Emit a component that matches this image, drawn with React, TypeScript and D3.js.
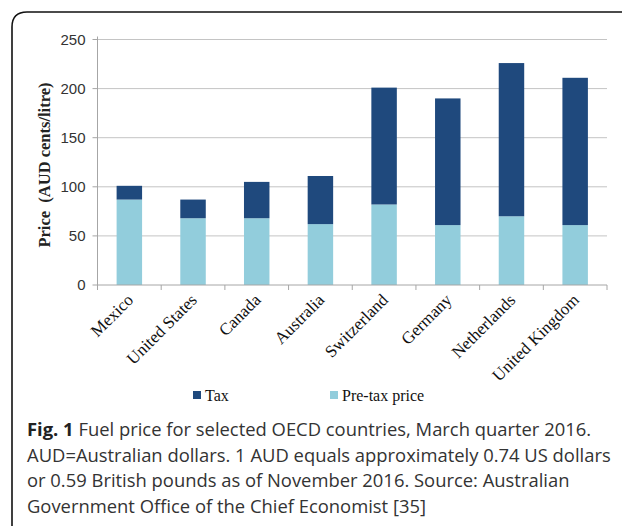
import * as d3 from "d3";
import React from "react";

// data (AUD cents / litre)
const countries = ["Mexico", "United States", "Canada", "Australia", "Switzerland", "Germany", "Netherlands", "United Kingdom"];
const preTax = [87, 68, 68, 62, 82, 61, 70, 61];
const tax = [14, 19, 37, 49, 119, 129, 156, 150];
const yTicks = [0, 50, 100, 150, 200, 250];
const seriesNames = ["Tax", "Pre-tax price"];
const seriesColors = ["#1f497d", "#92cddc"];
const captionLines = [
  "Fuel price for selected OECD countries, March quarter 2016.",
  "AUD=Australian dollars. 1 AUD equals approximately 0.74 US dollars",
  "or 0.59 British pounds as of November 2016. Source: Australian",
  "Government Office of the Chief Economist [35]",
];

const W = 622;
const H = 526;
const margin = { top: 39.5, left: 97.5, right: 15, bottom: 241 };

export default function App() {
  const x = d3.scaleBand<string>().domain(countries).range([margin.left, W - margin.right]);
  const y = d3.scaleLinear().domain([0, 250]).range([H - margin.bottom, margin.top]);
  const bw = x.bandwidth() * 0.4;
  const serif = "'Liberation Serif', serif";
  const sans = "'Liberation Sans', Arial, sans-serif";

  const stack = d3.stack<number>().keys(["pre", "tax"]).value((i, k) => (k === "pre" ? preTax[i] : tax[i]));
  const layers = stack(d3.range(countries.length));

  return (
    <svg width={W} height={H} style={{ position: "absolute", left: 0, top: 0, background: "#fff" }}>
      {/* figure frame */}
      <path d={`M12,${H + 5} L12,27 Q12,12 27,12 L${W + 5},12`} fill="none" stroke="#111" strokeWidth={1.6} />

      {/* gridlines */}
      {yTicks.slice(1).map((t) => (
        <line key={t} x1={margin.left} x2={W - margin.right} y1={y(t)} y2={y(t)} stroke="#c4c4c4" strokeWidth={1} />
      ))}

      {/* bars */}
      {layers.map((layer, li) =>
        layer.map((d, i) => (
          <rect
            key={`${li}-${i}`}
            x={x(countries[i])! + x.bandwidth() / 2 - bw / 2}
            y={y(d[1])}
            width={bw}
            height={y(d[0]) - y(d[1])}
            fill={li === 0 ? seriesColors[1] : seriesColors[0]}
          />
        ))
      )}

      {/* y axis */}
      <line x1={margin.left} x2={margin.left} y1={y(250) - 3} y2={y(0)} stroke="#a6a6a6" />
      {yTicks.map((t) => (
        <g key={t}>
          <line x1={margin.left - 5} x2={margin.left} y1={y(t)} y2={y(t)} stroke="#a6a6a6" />
          <text x={margin.left - 12} y={y(t)} dy="0.35em" textAnchor="end" fontFamily={sans} fontSize={15} fill="#333">
            {t}
          </text>
        </g>
      ))}

      {/* x axis */}
      <line x1={margin.left} x2={W - margin.right} y1={y(0)} y2={y(0)} stroke="#a6a6a6" />
      {countries.concat([""]).map((c, i) => {
        const xx = margin.left + i * x.step();
        return <line key={i} x1={xx} x2={xx} y1={y(0)} y2={y(0) + 5} stroke="#a6a6a6" />;
      })}
      {countries.map((c) => {
        const cx = x(c)! + x.bandwidth() / 2 + 5;
        const cy = y(0) + 16;
        return (
          <text key={c} x={cx} y={cy} textAnchor="end" transform={`rotate(-45,${cx},${cy})`} fontFamily={serif} fontSize={17} fill="#111">
            {c}
          </text>
        );
      })}

      {/* y label */}
      <text
        transform={`translate(50,165) rotate(-90)`}
        textAnchor="middle"
        fontFamily={serif}
        fontWeight="bold"
        fontSize={16.5}
        fill="#222"
      >
        {"Price\u00a0\u00a0(AUD cents/litre)"}
      </text>

      {/* legend */}
      {seriesNames.map((s, i) => {
        const lx = i === 0 ? 193 : 330;
        return (
          <g key={s}>
            <rect x={lx} y={391} width={8} height={8} fill={seriesColors[i]} />
            <text x={lx + 12} y={400.5} fontFamily={serif} fontSize={16} fill="#111">
              {s}
            </text>
          </g>
        );
      })}

      {/* caption */}
      <g fontFamily="'Open Sans', sans-serif" fontSize={18.4} fill="#333">
        {captionLines.map((l, i) => (
          <text key={i} x={27} y={436 + i * 25.5}>
            {i === 0 ? (
              <>
                <tspan fontWeight="bold" fill="#222">Fig. 1</tspan> {l}
              </>
            ) : (
              l
            )}
          </text>
        ))}
      </g>
    </svg>
  );
}
